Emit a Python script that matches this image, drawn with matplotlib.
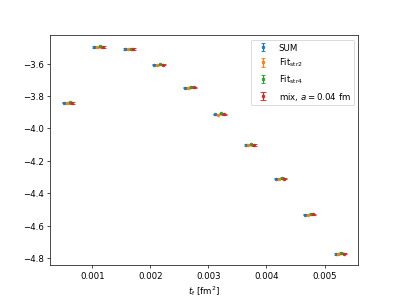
import matplotlib
matplotlib.use("Agg")
import matplotlib.pyplot as plt
import numpy as np

# flow time values (blue / SUM positions)
t_f = [0.00051, 0.00103, 0.00156, 0.00207, 0.00260,
       0.00312, 0.00364, 0.00416, 0.00466, 0.00519]

val_sum = [-3.842, -3.497, -3.511, -3.608, -3.748,
           -3.914, -4.103, -4.310, -4.532, -4.774]
val_str2 = [-3.846, -3.499, -3.513, -3.610, -3.750,
            -3.915, -4.104, -4.311, -4.533, -4.775]
val_str4 = [-3.840, -3.494, -3.508, -3.604, -3.744,
            -3.908, -4.098, -4.305, -4.527, -4.769]
val_mix = [-3.843, -3.497, -3.510, -3.607, -3.747,
           -3.913, -4.102, -4.309, -4.531, -4.773]
err = [0.004, 0.004, 0.004, 0.004, 0.004,
       0.004, 0.004, 0.004, 0.004, 0.004]

labels = ['SUM', r'Fit$_{\rm str2}$', r'Fit$_{\rm str4}$',
          r'mix, $a=0.04$ fm']

fig, ax = plt.subplots(figsize=(6.4, 4.8), dpi=62.2)

x = np.array(t_f)
series = [val_sum, val_str2, val_str4, val_mix]
colors = ['C0', 'C1', 'C2', 'C3']
for i, (vals, c, lab) in enumerate(zip(series, colors, labels)):
    cap = 3 if i == 3 else 2
    ax.errorbar(x + i * 0.00005, vals, yerr=err, fmt='.', color=c,
                capsize=cap, label=lab)

ax.set_xlabel(r'$t_{\rm f}$ [fm$^2$]')
ax.legend(loc='upper right')

fig.savefig('out.png', dpi=62.2)
